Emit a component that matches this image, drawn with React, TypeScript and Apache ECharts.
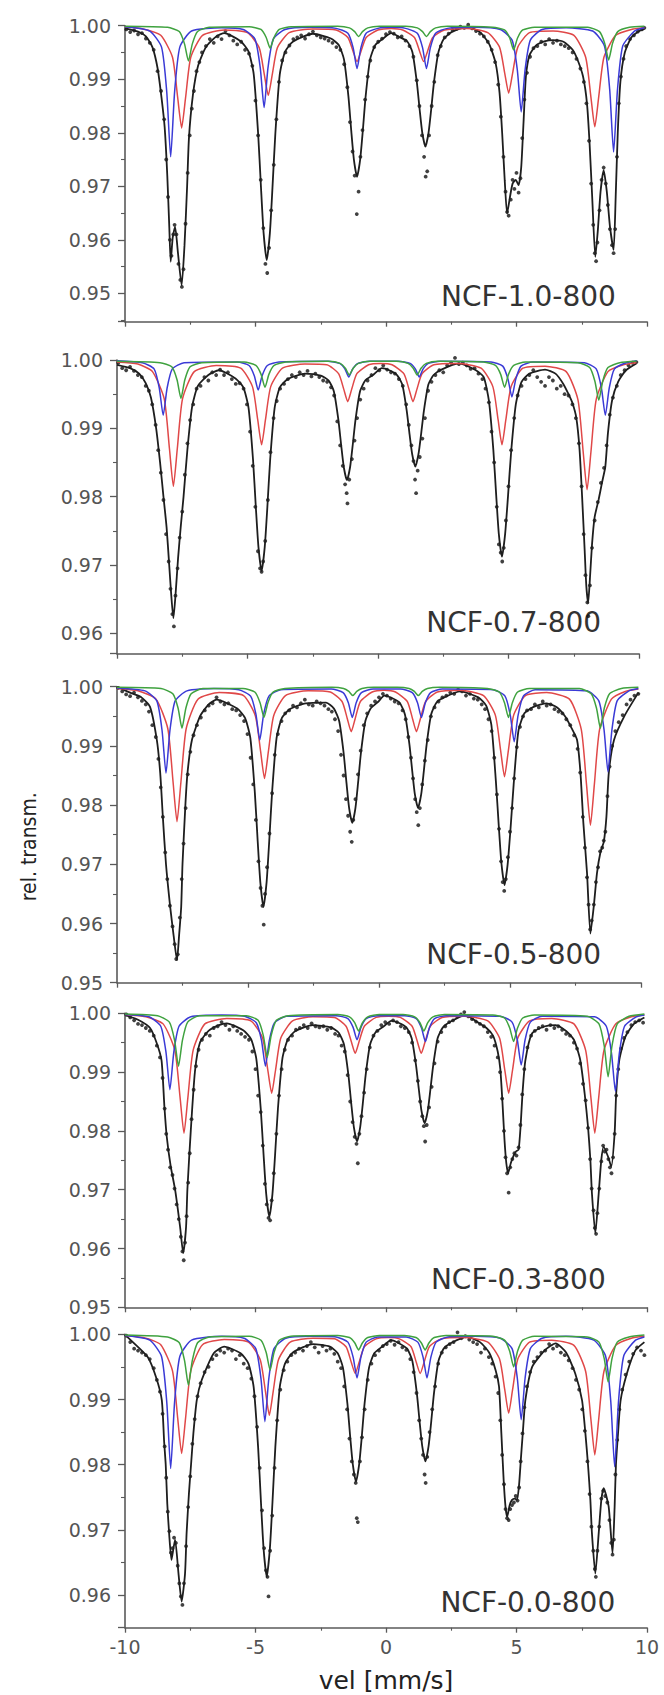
import { useEffect, useRef } from 'react';
import * as echarts from 'echarts';

type Pt = [number, number];

// ---------------- Panel 1 : NCF-1.0-800 ----------------
const p1Total: Pt[] = [[-10,0.9995],[-9.5,0.9989],[-9.2,0.998],[-8.95,0.996],[-8.75,0.992],[-8.6,0.9865],[-8.48,0.981],[-8.38,0.972],[-8.3,0.962],[-8.25,0.9559],[-8.17,0.9605],[-8.08,0.9624],[-7.97,0.9575],[-7.83,0.9515],[-7.72,0.959],[-7.62,0.97],[-7.55,0.979],[-7.4,0.987],[-7.2,0.9925],[-6.9,0.996],[-6.5,0.998],[-6.2,0.9986],
[-5.57,0.9971],[-5.27,0.9952],[-5.07,0.991],[-4.9,0.9799],[-4.79,0.9698],[-4.69,0.9613],[-4.57,0.9562],[-4.45,0.9612],[-4.35,0.9697],[-4.24,0.9798],[-4.07,0.9909],[-3.87,0.9951],[-3.57,0.997],[-2.8,0.9985],
[-2.11,0.9976],[-1.81,0.9964],[-1.61,0.9937],[-1.44,0.9868],[-1.33,0.9803],[-1.23,0.975],[-1.11,0.9718],[-0.99,0.975],[-0.89,0.9803],[-0.78,0.9868],[-0.61,0.9937],[-0.41,0.9964],[-0.11,0.9976],[0.2,0.9986],
[0.51,0.9979],[0.81,0.9971],[1.01,0.9951],[1.18,0.9895],[1.29,0.9843],[1.39,0.98],[1.51,0.9774],[1.63,0.98],[1.73,0.9843],[1.84,0.9895],[2.01,0.9951],[2.21,0.9975],[2.51,0.9988],
[3.1,0.9998],[3.6,0.9988],[3.95,0.9966],[4.2,0.993],[4.35,0.9875],[4.45,0.98],[4.55,0.971],[4.64,0.9649],[4.75,0.968],[4.85,0.9705],[4.97,0.9712],[5.08,0.9702],[5.18,0.9735],[5.27,0.982],[5.36,0.9905],[5.5,0.9945],[5.75,0.9963],[6.1,0.9971],[6.4,0.9973],
[6.8,0.997],[7.15,0.9955],[7.35,0.9935],[7.55,0.9905],[7.7,0.9855],[7.8,0.978],[7.9,0.968],[8.02,0.9568],[8.12,0.962],[8.22,0.969],[8.34,0.973],[8.46,0.969],[8.58,0.9625],[8.72,0.9581],[8.8,0.968],[8.88,0.98],[8.98,0.9895],[9.15,0.995],[9.4,0.9978],[9.7,0.999],[9.9,0.9994]];
const p1Red: Pt[] = [[-10,0.9998],[-9.3,0.9994],[-8.63,0.9982],[-8.18,0.9941],[-7.98,0.9865],[-7.83,0.9809],[-7.68,0.9865],[-7.48,0.9941],[-7.03,0.9982],[-6.2,0.9992],[-5.31,0.9987],[-4.86,0.9959],[-4.66,0.9908],[-4.51,0.987],[-4.36,0.9908],[-4.16,0.9959],[-3.71,0.9987],[-2.8,0.9994],[-1.91,0.9992],[-1.46,0.9978],[-1.26,0.9952],[-1.11,0.9933],[-0.96,0.9952],[-0.76,0.9978],[-0.31,0.9992],[0.2,0.9995],[0.64,0.9992],[1.09,0.9978],[1.29,0.9952],[1.44,0.9933],[1.59,0.9952],[1.79,0.9978],[2.24,0.9992],[3.1,0.9995],[3.9,0.9987],[4.35,0.996],[4.55,0.9911],[4.7,0.9874],[4.85,0.9911],[5.05,0.996],[5.5,0.9987],[6.4,0.999],[7.2,0.9982],[7.65,0.9941],[7.85,0.9867],[8.0,0.9811],[8.15,0.9867],[8.35,0.9941],[8.8,0.9982],[9.4,0.9993],[9.9,0.9996]];
const p1Blue: Pt[] = [[-10,0.9998],[-9.05,0.999],[-8.6,0.996],[-8.4,0.9876],[-8.25,0.9755],[-8.1,0.9876],[-7.9,0.996],[-7.45,0.999],[-6.3,0.9996],[-5.47,0.9993],[-5.02,0.9975],[-4.82,0.9922],[-4.67,0.9847],[-4.52,0.9922],[-4.32,0.9975],[-3.87,0.9993],[-2.9,0.9997],[-1.91,0.9995],[-1.46,0.9986],[-1.26,0.9959],[-1.11,0.992],[-0.96,0.9959],[-0.76,0.9986],[-0.31,0.9995],[0.2,0.9997],[0.75,0.9995],[1.2,0.9986],[1.4,0.9959],[1.55,0.992],[1.7,0.9959],[1.9,0.9986],[2.35,0.9995],[3.4,0.9997],[4.38,0.9993],[4.83,0.9973],[5.03,0.9918],[5.18,0.9839],[5.33,0.9918],[5.53,0.9973],[5.98,0.9993],[6.9,0.9996],[7.92,0.999],[8.37,0.9962],[8.57,0.9881],[8.72,0.9764],[8.87,0.9881],[9.07,0.9962],[9.52,0.999],[9.9,0.9996]];
const p1Green: Pt[] = [[-10,0.9999],[-8.37,0.9997],[-7.92,0.9989],[-7.72,0.9966],[-7.57,0.9934],[-7.42,0.9966],[-7.22,0.9989],[-6.77,0.9997],[-5.24,0.9998],[-4.79,0.9993],[-4.59,0.9978],[-4.44,0.9958],[-4.29,0.9978],[-4.09,0.9993],[-3.64,0.9998],[-1.85,0.9999],[-1.4,0.9996],[-1.2,0.9989],[-1.05,0.998],[-0.9,0.9989],[-0.7,0.9996],[-0.25,0.9999],[0.75,0.9999],[1.2,0.9996],[1.4,0.9989],[1.55,0.998],[1.7,0.9989],[1.9,0.9996],[2.35,0.9999],[4.09,0.9997],[4.54,0.9992],[4.74,0.9977],[4.89,0.9955],[5.04,0.9977],[5.24,0.9992],[5.69,0.9997],[7.73,0.9997],[8.18,0.9989],[8.38,0.9967],[8.53,0.9936],[8.68,0.9967],[8.88,0.9989],[9.33,0.9997],[9.9,0.9999]];
const p1Dots: Pt[] = [[-9.95,0.9993],[-9.8,0.9988],[-9.65,0.9991],[-9.5,0.9984],[-9.35,0.9986],[-9.2,0.9976],[-9.05,0.9968],[-8.9,0.9955],[-8.75,0.9915],[-8.62,0.9878],[-8.5,0.9825],[-8.42,0.975],[-8.35,0.968],[-8.28,0.96],[-8.22,0.957],[-8.15,0.961],[-8.1,0.9628],[-8.03,0.961],[-7.95,0.9555],[-7.88,0.9525],[-7.82,0.9512],[-7.76,0.9545],[-7.68,0.963],[-7.6,0.9725],[-7.52,0.9795],[-7.44,0.9845],[-7.36,0.9878],[-7.26,0.9915],[-7.15,0.9932],[-7.05,0.995],[-6.9,0.9962],[-6.75,0.9975],[-6.6,0.9968],[-6.45,0.998],[-6.3,0.9975],[-6.15,0.999],[-6.0,0.9982],[-5.85,0.9972],
[-5.7,0.9965],[-5.55,0.997],[-5.4,0.9955],[-5.25,0.9948],[-5.12,0.9925],[-5.0,0.986],[-4.9,0.9795],[-4.8,0.9712],[-4.7,0.9622],[-4.62,0.9555],[-4.55,0.9538],[-4.48,0.9585],[-4.4,0.9655],[-4.3,0.974],[-4.2,0.9825],[-4.1,0.9895],[-3.98,0.9935],[-3.85,0.995],[-3.7,0.9963],[-3.55,0.9975],[-3.4,0.9978],[-3.25,0.9982],[-3.1,0.9976],[-2.95,0.9984],[-2.8,0.9989],[-2.65,0.9982],[-2.5,0.9978],[-2.35,0.9976],
[-2.2,0.9972],[-2.05,0.9968],[-1.9,0.996],[-1.75,0.9955],[-1.6,0.9928],[-1.48,0.9885],[-1.38,0.982],[-1.28,0.9765],[-1.2,0.972],[-1.12,0.9648],[-1.05,0.969],[-0.98,0.9755],[-0.9,0.9805],[-0.8,0.9862],[-0.7,0.9905],[-0.6,0.9935],[-0.45,0.996],[-0.3,0.997],[-0.15,0.9976],[0.0,0.9984],[0.15,0.9988],[0.3,0.9985],[0.45,0.9978],[0.6,0.998],
[0.75,0.9972],[0.9,0.9962],[1.05,0.9942],[1.18,0.9898],[1.28,0.985],[1.38,0.9795],[1.46,0.9755],[1.52,0.9718],[1.58,0.9728],[1.65,0.9795],[1.75,0.985],[1.85,0.9895],[1.98,0.9945],[2.1,0.9962],[2.25,0.9978],[2.4,0.9985],[2.55,0.9992],[2.7,0.9994],[2.85,0.9998],[3.0,0.9996],[3.15,1.0002],[3.3,0.9995],[3.45,0.999],
[3.6,0.9985],[3.75,0.998],[3.9,0.997],[4.05,0.9955],[4.18,0.9932],[4.3,0.989],[4.4,0.983],[4.5,0.9755],[4.58,0.969],[4.64,0.9652],[4.7,0.9645],[4.78,0.9675],[4.85,0.9712],[4.92,0.9695],[5.0,0.9725],[5.08,0.9688],[5.15,0.9715],[5.22,0.979],[5.3,0.9862],[5.4,0.9912],[5.52,0.9942],[5.65,0.9958],[5.8,0.9962],[5.95,0.997],[6.1,0.9965],[6.25,0.9975],[6.4,0.9968],[6.55,0.9972],[6.7,0.9965],[6.85,0.9962],
[7.0,0.9958],[7.15,0.995],[7.3,0.9938],[7.45,0.992],[7.58,0.9895],[7.68,0.9855],[7.78,0.9785],[7.86,0.9705],[7.94,0.9628],[8.0,0.9575],[8.05,0.956],[8.1,0.9595],[8.18,0.9655],[8.26,0.9712],[8.34,0.9735],[8.42,0.9705],[8.5,0.9665],[8.58,0.962],[8.66,0.959],[8.72,0.9575],[8.78,0.962],[8.85,0.9755],[8.92,0.9855],[9.0,0.9905],[9.1,0.9938],[9.2,0.9962],[9.35,0.9975],[9.5,0.9982],[9.65,0.9989],[9.8,0.9993],[9.9,0.9996]];

// ---------------- Panel 2 : NCF-0.7-800 ----------------
const p2Total: Pt[] = [[-10,0.9993],[-9.5,0.9988],[-9.15,0.998],[-8.9,0.9966],[-8.7,0.9945],[-8.5,0.99],[-8.35,0.985],[-8.22,0.98],[-8.1,0.9755],[-8.0,0.97],[-7.92,0.9655],[-7.84,0.9622],[-7.76,0.9655],[-7.66,0.971],[-7.56,0.9755],[-7.45,0.98],[-7.3,0.987],[-7.12,0.9932],[-6.9,0.9962],[-6.5,0.9978],[-6.1,0.9985],
[-5.46,0.9973],[-5.16,0.996],[-4.96,0.993],[-4.79,0.9855],[-4.68,0.9784],[-4.58,0.9726],[-4.46,0.9691],[-4.34,0.9726],[-4.24,0.9784],[-4.13,0.9855],[-3.96,0.993],[-3.76,0.996],[-3.46,0.9972],[-2.8,0.998],
[-2.19,0.9977],[-1.89,0.997],[-1.69,0.9954],[-1.52,0.9913],[-1.41,0.9875],[-1.31,0.9843],[-1.19,0.9824],[-1.07,0.9843],[-0.97,0.9875],[-0.86,0.9913],[-0.69,0.9954],[-0.49,0.997],[-0.19,0.9978],[0.15,0.9988],
[0.43,0.9985],[0.73,0.9978],[0.93,0.9964],[1.1,0.9926],[1.21,0.9891],[1.31,0.9862],[1.43,0.9844],[1.55,0.9862],[1.65,0.9891],[1.76,0.9926],[1.93,0.9964],[2.13,0.9978],[2.43,0.9986],[3.1,0.9995],
[3.75,0.9985],[4.05,0.9975],[4.25,0.994],[4.42,0.9868],[4.53,0.9801],[4.63,0.9745],[4.75,0.9712],[4.87,0.9745],[4.98,0.98],[5.1,0.9865],[5.28,0.9935],[5.5,0.9968],[5.8,0.998],[6.4,0.9986],
[6.8,0.998],[7.1,0.9965],[7.3,0.995],[7.45,0.9937],[7.6,0.9915],[7.72,0.987],[7.82,0.98],[7.92,0.972],[7.98,0.967],[8.05,0.9644],[8.12,0.968],[8.2,0.973],[8.3,0.977],[8.45,0.9795],[8.58,0.982],[8.71,0.9844],[8.81,0.9893],[8.97,0.9941],[9.2,0.9968],[9.5,0.9985],[9.9,0.9995]];
const p2Red: Pt[] = [[-10,0.9997],[-9.2,0.9994],[-8.64,0.9983],[-8.19,0.9943],[-7.99,0.987],[-7.84,0.9815],[-7.69,0.987],[-7.49,0.9943],[-7.04,0.9983],[-6.2,0.9992],[-5.26,0.9988],[-4.81,0.9961],[-4.61,0.9913],[-4.46,0.9876],[-4.31,0.9913],[-4.11,0.9961],[-3.66,0.9988],[-2.8,0.9994],[-1.96,0.9993],[-1.51,0.998],[-1.31,0.9957],[-1.16,0.9939],[-1.01,0.9957],[-0.81,0.998],[-0.36,0.9993],[0.1,0.9995],[0.54,0.9993],[0.99,0.998],[1.19,0.9957],[1.34,0.9939],[1.49,0.9957],[1.69,0.998],[2.14,0.9993],[3.05,0.9995],[3.95,0.9988],[4.4,0.9961],[4.6,0.9913],[4.75,0.9876],[4.9,0.9913],[5.1,0.9961],[5.55,0.9988],[6.4,0.9991],[7.21,0.9983],[7.66,0.9942],[7.86,0.9866],[8.01,0.981],[8.16,0.9866],[8.36,0.9942],[8.81,0.9983],[9.4,0.9993],[9.9,0.9996]];
const p2Blue: Pt[] = [[-10,0.9999],[-9.03,0.9996],[-8.58,0.9987],[-8.38,0.9959],[-8.23,0.9919],[-8.08,0.9959],[-7.88,0.9987],[-7.43,0.9996],[-5.39,0.9997],[-4.94,0.9992],[-4.74,0.9977],[-4.59,0.9956],[-4.44,0.9977],[-4.24,0.9992],[-3.79,0.9997],[-1.92,0.9998],[-1.47,0.9995],[-1.27,0.9987],[-1.12,0.9975],[-0.97,0.9987],[-0.77,0.9995],[-0.32,0.9998],[0.78,0.9998],[1.23,0.9995],[1.43,0.9987],[1.58,0.9975],[1.73,0.9987],[1.93,0.9995],[2.38,0.9998],[4.33,0.9997],[4.78,0.9991],[4.98,0.9972],[5.13,0.9946],[5.28,0.9972],[5.48,0.9991],[5.93,0.9997],[7.91,0.9996],[8.36,0.9987],[8.56,0.9959],[8.71,0.9919],[8.86,0.9959],[9.06,0.9987],[9.51,0.9996],[9.9,0.9999]];
const p2Green: Pt[] = [[-10,0.9998],[-8.35,0.9996],[-7.9,0.999],[-7.7,0.9971],[-7.55,0.9944],[-7.4,0.9971],[-7.2,0.999],[-6.75,0.9996],[-5.13,0.9997],[-4.68,0.9992],[-4.48,0.9979],[-4.33,0.996],[-4.18,0.9979],[-3.98,0.9992],[-3.53,0.9997],[-1.9,0.9998],[-1.45,0.9995],[-1.25,0.9988],[-1.1,0.9978],[-0.95,0.9988],[-0.75,0.9995],[-0.3,0.9998],[0.7,0.9998],[1.15,0.9995],[1.35,0.9988],[1.5,0.9978],[1.65,0.9988],[1.85,0.9995],[2.3,0.9998],[4.05,0.9997],[4.5,0.9992],[4.7,0.9979],[4.85,0.996],[5.0,0.9979],[5.2,0.9992],[5.65,0.9997],[7.66,0.9996],[8.11,0.9989],[8.31,0.9969],[8.46,0.9941],[8.61,0.9969],[8.81,0.9989],[9.26,0.9996],[9.9,0.9998]];
const p2Dots: Pt[] = [[-9.95,0.9996],[-9.8,0.9988],[-9.65,0.9985],[-9.5,0.999],[-9.35,0.9984],[-9.2,0.9978],[-9.05,0.9975],[-8.9,0.9962],[-8.78,0.9955],[-8.65,0.9935],[-8.52,0.9905],[-8.42,0.9868],[-8.32,0.9835],[-8.22,0.9795],[-8.12,0.9745],[-8.02,0.9705],[-7.95,0.9665],[-7.88,0.9628],[-7.82,0.961],[-7.76,0.9655],[-7.68,0.9695],[-7.6,0.974],[-7.5,0.9778],[-7.4,0.9832],[-7.3,0.9878],[-7.2,0.9912],[-7.08,0.9935],[-6.95,0.9958],[-6.8,0.9962],[-6.65,0.9975],[-6.5,0.997],[-6.35,0.9982],[-6.2,0.9978],[-6.05,0.9986],[-5.9,0.9978],[-5.75,0.9982],[-5.6,0.9972],[-5.45,0.9965],[-5.3,0.9966],[-5.15,0.9958],[-5.02,0.9935],[-4.9,0.9895],[-4.8,0.9845],[-4.7,0.9785],[-4.6,0.972],[-4.52,0.9695],[-4.46,0.969],[-4.4,0.9705],[-4.32,0.9735],[-4.22,0.9795],[-4.12,0.9865],[-4.0,0.9915],[-3.88,0.994],[-3.75,0.9958],[-3.6,0.9965],[-3.45,0.9972],[-3.3,0.9978],[-3.15,0.9975],[-3.0,0.9982],[-2.85,0.9978],[-2.7,0.9984],[-2.55,0.9976],[-2.4,0.998],[-2.25,0.9975],[-2.1,0.997],[-1.95,0.9968],[-1.8,0.996],[-1.68,0.9948],[-1.56,0.991],[-1.45,0.9875],[-1.35,0.9845],[-1.26,0.9818],[-1.2,0.9805],[-1.17,0.979],[-1.1,0.9825],[-1.0,0.9855],[-0.9,0.9882],[-0.8,0.9915],[-0.68,0.9942],[-0.55,0.9958],[-0.4,0.997],[-0.25,0.9978],[-0.1,0.9988],[0.05,0.9985],[0.2,0.9992],[0.35,0.9986],[0.5,0.9982],[0.65,0.998],[0.8,0.9972],[0.95,0.9962],[1.08,0.9935],[1.18,0.9905],[1.28,0.9875],[1.36,0.9852],[1.42,0.9825],[1.46,0.9805],[1.52,0.9838],[1.6,0.9858],[1.7,0.9885],[1.8,0.9915],[1.92,0.9955],[2.05,0.9968],[2.2,0.9978],[2.35,0.9985],[2.5,0.9982],[2.65,0.9992],[2.8,0.9996],[2.95,1.0003],[3.1,0.9994],[3.25,0.9996],[3.4,0.9992],[3.55,0.9987],[3.7,0.9988],[3.85,0.998],[4.0,0.9972],[4.12,0.9958],[4.25,0.9938],[4.35,0.9895],[4.45,0.985],[4.55,0.9785],[4.63,0.973],[4.7,0.9718],[4.76,0.9705],[4.82,0.9725],[4.9,0.9765],[5.0,0.9815],[5.1,0.9868],[5.22,0.9915],[5.35,0.9948],[5.5,0.9962],[5.65,0.9972],[5.8,0.9978],[5.95,0.9985],[6.1,0.9975],[6.25,0.9968],[6.4,0.9962],[6.55,0.9975],[6.7,0.997],[6.85,0.9958],[7.0,0.9962],[7.15,0.995],[7.3,0.9948],[7.45,0.9935],[7.58,0.9915],[7.7,0.9878],[7.8,0.9815],[7.88,0.9745],[7.95,0.9685],[8.02,0.9645],[8.06,0.9625],[8.12,0.967],[8.2,0.9725],[8.3,0.9765],[8.42,0.9792],[8.54,0.982],[8.66,0.9842],[8.76,0.9875],[8.88,0.992],[9.0,0.9945],[9.15,0.9962],[9.3,0.9978],[9.45,0.9985],[9.6,0.9992],[9.75,0.9996],[9.9,0.9997]];

// ---------------- Panel 3 : NCF-0.5-800 ----------------
const p3Total: Pt[] = [[-10,1.0],[-9.5,0.999],[-9.1,0.9983],[-8.74,0.9966],[-8.48,0.991],[-8.35,0.9854],[-8.25,0.978],[-8.13,0.97],[-7.97,0.9628],[-7.84,0.958],[-7.71,0.9538],[-7.63,0.958],[-7.55,0.9628],[-7.5,0.97],[-7.39,0.98],[-7.31,0.9854],[-7.14,0.991],[-6.82,0.9951],[-6.5,0.997],[-6.2,0.9978],
[-5.41,0.9963],[-5.11,0.9947],[-4.91,0.9913],[-4.74,0.9822],[-4.63,0.9739],[-4.53,0.967],[-4.41,0.9628],[-4.29,0.967],[-4.19,0.9739],[-4.08,0.9822],[-3.91,0.9913],[-3.71,0.9947],[-3.41,0.9962],[-2.8,0.9972],
[-2.02,0.9973],[-1.72,0.9963],[-1.52,0.9942],[-1.35,0.9888],[-1.24,0.9837],[-1.14,0.9795],[-1.02,0.977],[-0.9,0.9795],[-0.8,0.9837],[-0.69,0.9888],[-0.52,0.9942],[-0.32,0.9963],[-0.02,0.9975],[0.2,0.9985],
[0.49,0.9981],[0.79,0.9973],[0.99,0.9953],[1.16,0.9903],[1.27,0.9857],[1.37,0.9818],[1.49,0.9795],[1.61,0.9818],[1.71,0.9857],[1.82,0.9903],[1.99,0.9953],[2.19,0.9973],[2.49,0.9982],[3.1,0.9992],
[3.79,0.9982],[4.09,0.9968],[4.29,0.9935],[4.46,0.9841],[4.57,0.9766],[4.67,0.9703],[4.79,0.9665],[4.91,0.97],[5.02,0.976],[5.14,0.9835],[5.32,0.9925],[5.55,0.9955],[5.9,0.9966],[6.4,0.9972],
[6.8,0.9965],[7.1,0.995],[7.35,0.993],[7.56,0.991],[7.69,0.9854],[7.8,0.977],[7.94,0.9685],[8.07,0.9583],[8.2,0.963],[8.32,0.9685],[8.45,0.972],[8.58,0.9738],[8.68,0.978],[8.77,0.9854],[8.97,0.991],[9.36,0.995],[9.9,0.999]];
const p3Red: Pt[] = [[-10,0.9997],[-9.2,0.9993],[-8.51,0.9979],[-8.06,0.9929],[-7.86,0.9839],[-7.71,0.9772],[-7.56,0.9839],[-7.36,0.9929],[-6.91,0.9979],[-6.1,0.999],[-5.17,0.9985],[-4.72,0.9951],[-4.52,0.9891],[-4.37,0.9845],[-4.22,0.9891],[-4.02,0.9951],[-3.57,0.9985],[-2.7,0.9993],[-1.86,0.9991],[-1.41,0.9975],[-1.21,0.9946],[-1.06,0.9924],[-0.91,0.9946],[-0.71,0.9975],[-0.26,0.9991],[0.2,0.9994],[0.63,0.9991],[1.08,0.9975],[1.28,0.9946],[1.43,0.9924],[1.58,0.9946],[1.78,0.9975],[2.23,0.9991],[3.1,0.9994],[3.99,0.9985],[4.44,0.9952],[4.64,0.9893],[4.79,0.9848],[4.94,0.9893],[5.14,0.9952],[5.59,0.9985],[6.4,0.999],[7.27,0.9979],[7.72,0.9928],[7.92,0.9835],[8.07,0.9766],[8.22,0.9835],[8.42,0.9928],[8.87,0.9979],[9.4,0.9992],[9.9,0.9996]];
const p3Blue: Pt[] = [[-10,0.9998],[-8.93,0.9993],[-8.48,0.9976],[-8.28,0.9926],[-8.13,0.9854],[-7.98,0.9926],[-7.78,0.9976],[-7.33,0.9993],[-6.3,0.9997],[-5.35,0.9995],[-4.9,0.9984],[-4.7,0.9954],[-4.55,0.991],[-4.4,0.9954],[-4.2,0.9984],[-3.75,0.9995],[-1.82,0.9996],[-1.37,0.999],[-1.17,0.9973],[-1.02,0.9948],[-0.87,0.9973],[-0.67,0.999],[-0.22,0.9996],[0.82,0.9996],[1.27,0.999],[1.47,0.9973],[1.62,0.9948],[1.77,0.9973],[1.97,0.999],[2.42,0.9996],[4.36,0.9995],[4.81,0.9984],[5.01,0.9952],[5.16,0.9907],[5.31,0.9952],[5.51,0.9984],[5.96,0.9995],[7.94,0.9993],[8.39,0.9976],[8.59,0.9927],[8.74,0.9856],[8.89,0.9927],[9.09,0.9976],[9.54,0.9993],[9.9,0.9997]];
const p3Green: Pt[] = [[-10,0.9999],[-8.32,0.9997],[-7.87,0.9988],[-7.67,0.9964],[-7.52,0.993],[-7.37,0.9964],[-7.17,0.9988],[-6.72,0.9997],[-5.19,0.9997],[-4.74,0.9991],[-4.54,0.9973],[-4.39,0.9948],[-4.24,0.9973],[-4.04,0.9991],[-3.59,0.9997],[-1.8,0.9999],[-1.35,0.9997],[-1.15,0.9992],[-1.0,0.9985],[-0.85,0.9992],[-0.65,0.9997],[-0.2,0.9999],[0.7,0.9999],[1.15,0.9997],[1.35,0.9992],[1.5,0.9985],[1.65,0.9992],[1.85,0.9997],[2.3,0.9999],[4.14,0.9997],[4.59,0.9991],[4.79,0.9973],[4.94,0.9948],[5.09,0.9973],[5.29,0.9991],[5.74,0.9997],[7.65,0.9997],[8.1,0.9988],[8.3,0.9964],[8.45,0.993],[8.6,0.9964],[8.8,0.9988],[9.25,0.9997],[9.9,0.9999]];
const p3Dots: Pt[] = [[-9.95,0.9998],[-9.8,0.9992],[-9.65,0.9987],[-9.5,0.9984],[-9.35,0.999],[-9.2,0.9982],[-9.05,0.9976],[-8.9,0.997],[-8.78,0.9958],[-8.65,0.9935],[-8.52,0.9915],[-8.42,0.9878],[-8.33,0.983],[-8.25,0.978],[-8.16,0.972],[-8.08,0.9675],[-7.98,0.963],[-7.88,0.9595],[-7.8,0.9565],[-7.74,0.954],[-7.68,0.9548],[-7.6,0.961],[-7.53,0.9675],[-7.46,0.9735],[-7.38,0.9795],[-7.3,0.9852],[-7.2,0.989],[-7.08,0.9918],[-6.95,0.9935],[-6.8,0.9948],[-6.65,0.996],[-6.5,0.9968],[-6.35,0.9972],[-6.2,0.9982],[-6.05,0.9975],[-5.9,0.997],[-5.75,0.9972],[-5.6,0.9962],[-5.45,0.996],[-5.3,0.9952],[-5.15,0.9942],[-5.02,0.992],[-4.9,0.988],[-4.8,0.9835],[-4.7,0.9775],[-4.6,0.9705],[-4.52,0.966],[-4.45,0.963],[-4.4,0.9598],[-4.35,0.965],[-4.27,0.9695],[-4.18,0.9752],[-4.08,0.982],[-3.98,0.9885],[-3.86,0.992],[-3.72,0.9942],[-3.58,0.9955],[-3.43,0.996],[-3.28,0.9968],[-3.13,0.9965],[-2.98,0.9972],[-2.83,0.9978],[-2.68,0.997],[-2.53,0.9968],[-2.38,0.9975],[-2.23,0.9972],[-2.08,0.9968],[-1.93,0.9962],[-1.8,0.9958],[-1.68,0.9945],[-1.56,0.9925],[-1.45,0.9885],[-1.35,0.985],[-1.26,0.981],[-1.18,0.9782],[-1.1,0.9755],[-1.04,0.9738],[-0.98,0.9775],[-0.9,0.981],[-0.8,0.9852],[-0.7,0.9892],[-0.58,0.9935],[-0.45,0.9955],[-0.3,0.9968],[-0.15,0.9975],[0.0,0.9982],[0.15,0.9988],[0.3,0.9985],[0.45,0.998],[0.6,0.9975],[0.75,0.9972],[0.9,0.996],[1.02,0.9945],[1.12,0.9915],[1.22,0.988],[1.3,0.9845],[1.38,0.981],[1.44,0.9788],[1.5,0.9766],[1.56,0.9795],[1.65,0.9835],[1.75,0.9875],[1.86,0.991],[1.98,0.995],[2.12,0.9965],[2.27,0.9975],[2.42,0.9982],[2.57,0.9985],[2.72,0.999],[2.87,0.9988],[3.02,0.9995],[3.17,0.9992],[3.32,0.9985],[3.47,0.9988],[3.62,0.998],[3.77,0.9978],[3.92,0.997],[4.05,0.9962],[4.18,0.9945],[4.3,0.9925],[4.4,0.988],[4.5,0.9818],[4.58,0.976],[4.66,0.9705],[4.72,0.967],[4.78,0.9655],[4.84,0.9675],[4.92,0.9712],[5.0,0.9755],[5.08,0.9795],[5.16,0.9845],[5.26,0.9898],[5.38,0.9932],[5.5,0.995],[5.65,0.996],[5.8,0.9962],[5.95,0.997],[6.1,0.9965],[6.25,0.9975],[6.4,0.9968],[6.55,0.997],[6.7,0.9962],[6.85,0.9958],[7.0,0.9955],[7.15,0.9945],[7.3,0.9935],[7.45,0.9918],[7.58,0.9895],[7.68,0.9855],[7.78,0.978],[7.86,0.9728],[7.94,0.9678],[8.0,0.9632],[8.06,0.959],[8.12,0.9605],[8.2,0.9632],[8.28,0.967],[8.36,0.9695],[8.44,0.9722],[8.52,0.9728],[8.58,0.974],[8.64,0.9755],[8.72,0.9815],[8.8,0.9865],[8.9,0.99],[9.02,0.9925],[9.15,0.994],[9.3,0.9952],[9.45,0.997],[9.6,0.9978],[9.75,0.9985],[9.9,0.9988]];

// ---------------- Panel 4 : NCF-0.3-800 ----------------
const p4Total: Pt[] = [[-10,0.9997],[-9.5,0.9989],[-9.04,0.9975],[-8.79,0.995],[-8.6,0.992],[-8.49,0.9841],[-8.4,0.979],[-8.25,0.974],[-8.08,0.97],[-7.89,0.9637],[-7.77,0.9592],[-7.66,0.9637],[-7.61,0.97],[-7.48,0.98],[-7.32,0.9901],[-7.13,0.995],[-6.8,0.997],[-6.4,0.998],[-6.1,0.9983],
[-5.47,0.9971],[-5.17,0.9956],[-4.97,0.9923],[-4.8,0.9838],[-4.69,0.9759],[-4.59,0.9693],[-4.47,0.9654],[-4.35,0.9693],[-4.25,0.9759],[-4.14,0.9838],[-3.97,0.9923],[-3.77,0.9955],[-3.47,0.997],[-2.8,0.998],
[-2.11,0.9976],[-1.81,0.9967],[-1.61,0.9947],[-1.44,0.9895],[-1.33,0.9846],[-1.23,0.9806],[-1.11,0.9782],[-0.99,0.9806],[-0.89,0.9846],[-0.78,0.9895],[-0.61,0.9947],[-0.41,0.9967],[-0.11,0.9977],[0.2,0.9987],
[0.48,0.9984],[0.78,0.9976],[0.98,0.9958],[1.15,0.9912],[1.26,0.987],[1.36,0.9834],[1.48,0.9813],[1.6,0.9834],[1.7,0.987],[1.81,0.9912],[1.98,0.9958],[2.18,0.9976],[2.48,0.9986],[3.05,0.9997],
[3.5,0.9985],[3.85,0.9975],[4.1,0.9962],[4.28,0.9935],[4.38,0.9905],[4.46,0.985],[4.54,0.9785],[4.61,0.9745],[4.68,0.9728],[4.78,0.9745],[4.89,0.9758],[4.98,0.9765],[5.08,0.9768],[5.16,0.981],[5.23,0.9864],[5.34,0.992],[5.6,0.9966],[6.1,0.9978],[6.5,0.998],
[6.9,0.997],[7.2,0.9955],[7.44,0.9921],[7.61,0.9864],[7.74,0.9807],[7.83,0.9751],[7.89,0.9694],[8.02,0.9626],[8.15,0.9694],[8.25,0.9751],[8.34,0.9773],[8.51,0.9756],[8.63,0.9739],[8.76,0.9796],[8.82,0.9864],[8.94,0.9921],[9.17,0.996],[9.5,0.9982],[9.9,0.9993]];
const p4Red: Pt[] = [[-10,0.9998],[-9.2,0.9994],[-8.54,0.9982],[-8.09,0.9937],[-7.89,0.9857],[-7.74,0.9796],[-7.59,0.9857],[-7.39,0.9937],[-6.94,0.9982],[-6.1,0.9991],[-5.18,0.9987],[-4.73,0.9958],[-4.53,0.9904],[-4.38,0.9864],[-4.23,0.9904],[-4.03,0.9958],[-3.58,0.9987],[-2.8,0.9994],[-1.98,0.9993],[-1.53,0.9978],[-1.33,0.9952],[-1.18,0.9932],[-1.03,0.9952],[-0.83,0.9978],[-0.38,0.9993],[0.1,0.9995],[0.55,0.9993],[1.0,0.9978],[1.2,0.9952],[1.35,0.9932],[1.5,0.9952],[1.7,0.9978],[2.15,0.9993],[3.0,0.9995],[3.9,0.9987],[4.35,0.9958],[4.55,0.9904],[4.7,0.9864],[4.85,0.9904],[5.05,0.9958],[5.5,0.9987],[6.35,0.9991],[7.2,0.9982],[7.65,0.9937],[7.85,0.9857],[8.0,0.9796],[8.15,0.9857],[8.35,0.9937],[8.8,0.9982],[9.4,0.9994],[9.9,0.9997]];
const p4Blue: Pt[] = [[-10,0.9998],[-9.08,0.9994],[-8.63,0.9978],[-8.43,0.9934],[-8.28,0.987],[-8.13,0.9934],[-7.93,0.9978],[-7.48,0.9994],[-6.3,0.9997],[-5.42,0.9995],[-4.97,0.9984],[-4.77,0.9954],[-4.62,0.991],[-4.47,0.9954],[-4.27,0.9984],[-3.82,0.9995],[-1.91,0.9996],[-1.46,0.9991],[-1.26,0.9976],[-1.11,0.9955],[-0.96,0.9976],[-0.76,0.9991],[-0.31,0.9996],[0.71,0.9996],[1.16,0.9991],[1.36,0.9975],[1.51,0.9952],[1.66,0.9975],[1.86,0.9991],[2.31,0.9996],[4.38,0.9995],[4.83,0.9985],[5.03,0.9955],[5.18,0.9912],[5.33,0.9955],[5.53,0.9985],[5.98,0.9995],[7.99,0.9994],[8.44,0.9978],[8.64,0.9932],[8.79,0.9867],[8.94,0.9932],[9.14,0.9978],[9.59,0.9994],[9.9,0.9997]];
const p4Green: Pt[] = [[-10,0.9999],[-8.75,0.9996],[-8.3,0.9985],[-8.1,0.9954],[-7.95,0.991],[-7.8,0.9954],[-7.6,0.9985],[-7.15,0.9996],[-5.35,0.9996],[-4.9,0.9988],[-4.7,0.9962],[-4.55,0.9925],[-4.4,0.9962],[-4.2,0.9988],[-3.75,0.9996],[-1.85,0.9998],[-1.4,0.9994],[-1.2,0.9984],[-1.05,0.997],[-0.9,0.9984],[-0.7,0.9994],[-0.25,0.9998],[0.65,0.9998],[1.1,0.9994],[1.3,0.9984],[1.45,0.997],[1.6,0.9984],[1.8,0.9994],[2.25,0.9998],[4.09,0.9997],[4.54,0.9992],[4.74,0.9975],[4.89,0.9952],[5.04,0.9975],[5.24,0.9992],[5.69,0.9997],[7.71,0.9995],[8.16,0.9982],[8.36,0.9945],[8.51,0.9892],[8.66,0.9945],[8.86,0.9982],[9.31,0.9995],[9.9,0.9999]];
const p4Dots: Pt[] = [[-9.95,0.9998],[-9.8,0.9993],[-9.65,0.9988],[-9.5,0.9982],[-9.35,0.998],[-9.2,0.9975],[-9.05,0.997],[-8.9,0.9962],[-8.78,0.9945],[-8.66,0.9925],[-8.56,0.989],[-8.48,0.9838],[-8.42,0.9795],[-8.35,0.9768],[-8.27,0.9738],[-8.18,0.9725],[-8.1,0.9702],[-8.02,0.9675],[-7.94,0.965],[-7.86,0.962],[-7.8,0.9595],[-7.75,0.958],[-7.7,0.961],[-7.64,0.9655],[-7.58,0.9712],[-7.52,0.9762],[-7.45,0.982],[-7.37,0.987],[-7.28,0.991],[-7.18,0.9938],[-7.05,0.9955],[-6.9,0.9965],[-6.75,0.9962],[-6.6,0.9975],[-6.45,0.9978],[-6.3,0.9985],[-6.15,0.998],[-6.0,0.9972],[-5.85,0.9978],[-5.7,0.997],[-5.55,0.9965],[-5.4,0.996],[-5.25,0.9955],[-5.12,0.9935],[-5.0,0.9905],[-4.9,0.986],[-4.8,0.9832],[-4.72,0.9775],[-4.64,0.971],[-4.57,0.9675],[-4.5,0.9652],[-4.44,0.9648],[-4.38,0.9682],[-4.3,0.9728],[-4.2,0.9795],[-4.1,0.986],[-4.0,0.9905],[-3.88,0.9938],[-3.75,0.9955],[-3.6,0.9962],[-3.45,0.9972],[-3.3,0.9975],[-3.15,0.998],[-3.0,0.9975],[-2.85,0.9983],[-2.7,0.9978],[-2.55,0.9976],[-2.4,0.9978],[-2.25,0.9972],[-2.1,0.9975],[-1.95,0.9965],[-1.82,0.9962],[-1.7,0.9945],[-1.58,0.9935],[-1.47,0.9895],[-1.37,0.985],[-1.28,0.9815],[-1.2,0.979],[-1.13,0.9778],[-1.08,0.9745],[-1.02,0.9795],[-0.94,0.9825],[-0.84,0.9865],[-0.74,0.9905],[-0.62,0.9942],[-0.48,0.9962],[-0.33,0.997],[-0.18,0.998],[-0.03,0.9985],[0.12,0.9982],[0.27,0.9988],[0.42,0.9985],[0.57,0.9978],[0.72,0.9975],[0.87,0.9968],[1.0,0.995],[1.12,0.992],[1.22,0.9885],[1.31,0.985],[1.39,0.9825],[1.45,0.9808],[1.5,0.9782],[1.56,0.981],[1.65,0.984],[1.75,0.9875],[1.86,0.9915],[1.98,0.9952],[2.12,0.9968],[2.27,0.9978],[2.42,0.9985],[2.57,0.9988],[2.72,0.9995],[2.87,0.9998],[3.0,1.0002],[3.15,0.9995],[3.3,0.999],[3.45,0.9986],[3.6,0.9982],[3.75,0.9978],[3.9,0.9968],[4.03,0.996],[4.16,0.9945],[4.28,0.9925],[4.37,0.99],[4.45,0.9855],[4.52,0.98],[4.58,0.9755],[4.64,0.9728],[4.7,0.9695],[4.76,0.9738],[4.84,0.9752],[4.92,0.9762],[5.0,0.9758],[5.08,0.9772],[5.15,0.981],[5.22,0.9862],[5.3,0.9905],[5.42,0.9942],[5.56,0.9962],[5.7,0.997],[5.85,0.9975],[6.0,0.9978],[6.15,0.9972],[6.3,0.998],[6.45,0.9975],[6.6,0.9978],[6.75,0.9972],[6.9,0.9965],[7.05,0.9962],[7.2,0.995],[7.32,0.994],[7.44,0.9915],[7.55,0.988],[7.65,0.9852],[7.74,0.9805],[7.82,0.9752],[7.88,0.9702],[7.95,0.9665],[8.0,0.9635],[8.05,0.9625],[8.1,0.966],[8.17,0.9702],[8.25,0.9748],[8.32,0.9775],[8.38,0.9765],[8.45,0.9768],[8.52,0.9752],[8.58,0.9738],[8.64,0.9728],[8.7,0.9755],[8.76,0.9795],[8.82,0.986],[8.9,0.9905],[9.0,0.994],[9.12,0.9958],[9.25,0.9968],[9.4,0.998],[9.55,0.9985],[9.7,0.9988],[9.85,0.9984]];

// ---------------- Panel 5 : NCF-0.0-800 ----------------
const p5Total: Pt[] = [[-10,0.9999],[-9.7,0.9988],[-9.13,0.9965],[-8.81,0.9934],[-8.59,0.9899],[-8.5,0.9835],[-8.44,0.98],[-8.38,0.974],[-8.31,0.9695],[-8.22,0.9654],[-8.15,0.967],[-8.08,0.9685],[-7.95,0.9633],[-7.83,0.959],[-7.7,0.9633],[-7.64,0.9695],[-7.55,0.9756],[-7.47,0.98],[-7.38,0.9848],[-7.25,0.9899],[-7.06,0.993],[-6.6,0.9971],[-6.2,0.9981],
[-5.57,0.9971],[-5.27,0.9955],[-5.07,0.9919],[-4.9,0.9827],[-4.79,0.9742],[-4.69,0.9671],[-4.57,0.9628],[-4.45,0.9671],[-4.35,0.9742],[-4.24,0.9827],[-4.07,0.9919],[-3.87,0.9955],[-3.57,0.9972],[-2.8,0.9985],
[-2.15,0.9981],[-1.85,0.9971],[-1.65,0.9949],[-1.48,0.9894],[-1.37,0.9842],[-1.27,0.98],[-1.15,0.9774],[-1.03,0.98],[-0.93,0.9842],[-0.82,0.9894],[-0.65,0.9949],[-0.45,0.9971],[-0.15,0.9981],[0.2,0.9991],
[0.51,0.9986],[0.81,0.9978],[1.01,0.9959],[1.18,0.991],[1.29,0.9865],[1.39,0.9828],[1.51,0.9805],[1.63,0.9828],[1.73,0.9865],[1.84,0.991],[2.01,0.9959],[2.21,0.9978],[2.51,0.9987],[3.1,0.9996],
[3.6,0.9988],[3.95,0.9972],[4.2,0.9945],[4.33,0.992],[4.42,0.9848],[4.51,0.9775],[4.58,0.9735],[4.64,0.972],[4.74,0.9738],[4.83,0.9746],[4.93,0.9748],[5.02,0.9746],[5.1,0.977],[5.17,0.981],[5.24,0.9848],[5.34,0.9899],[5.6,0.995],[6.1,0.9976],[6.5,0.9986],
[6.9,0.9972],[7.25,0.994],[7.51,0.9899],[7.64,0.9848],[7.74,0.98],[7.83,0.9746],[7.89,0.9695],[8.02,0.9633],[8.15,0.9695],[8.25,0.9746],[8.34,0.9764],[8.53,0.9736],[8.68,0.9664],[8.76,0.9736],[8.81,0.98],[8.89,0.9848],[8.99,0.9899],[9.23,0.994],[9.55,0.9975],[9.9,0.9988]];
const p5Red: Pt[] = [[-10,0.9998],[-9.2,0.9994],[-8.63,0.9984],[-8.18,0.9944],[-7.98,0.9871],[-7.83,0.9817],[-7.68,0.9871],[-7.48,0.9944],[-7.03,0.9984],[-6.2,0.9992],[-5.27,0.9988],[-4.82,0.9961],[-4.62,0.9913],[-4.47,0.9876],[-4.32,0.9913],[-4.12,0.9961],[-3.67,0.9988],[-2.8,0.9994],[-1.98,0.9993],[-1.53,0.9981],[-1.33,0.9957],[-1.18,0.994],[-1.03,0.9957],[-0.83,0.9981],[-0.38,0.9993],[0.1,0.9995],[0.51,0.9993],[0.96,0.9981],[1.16,0.9957],[1.31,0.994],[1.46,0.9957],[1.66,0.9981],[2.11,0.9993],[3.0,0.9995],[3.9,0.9988],[4.35,0.9962],[4.55,0.9915],[4.7,0.9879],[4.85,0.9915],[5.05,0.9962],[5.5,0.9988],[6.35,0.9991],[7.2,0.9983],[7.65,0.9943],[7.85,0.987],[8.0,0.9815],[8.15,0.987],[8.35,0.9943],[8.8,0.9983],[9.4,0.9994],[9.9,0.9997]];
const p5Blue: Pt[] = [[-10,0.9998],[-9.05,0.9991],[-8.6,0.9966],[-8.4,0.9896],[-8.25,0.9794],[-8.1,0.9896],[-7.9,0.9966],[-7.45,0.9991],[-6.3,0.9997],[-5.44,0.9994],[-4.99,0.9978],[-4.79,0.9932],[-4.64,0.9866],[-4.49,0.9932],[-4.29,0.9978],[-3.84,0.9994],[-2.9,0.9997],[-1.91,0.9996],[-1.46,0.9988],[-1.26,0.9965],[-1.11,0.9933],[-0.96,0.9965],[-0.76,0.9988],[-0.31,0.9996],[0.77,0.9996],[1.22,0.9988],[1.42,0.9965],[1.57,0.9933],[1.72,0.9965],[1.92,0.9988],[2.37,0.9996],[3.4,0.9997],[4.38,0.9994],[4.83,0.9978],[5.03,0.9933],[5.18,0.9869],[5.33,0.9933],[5.53,0.9978],[5.98,0.9994],[6.9,0.9997],[7.96,0.9991],[8.41,0.9967],[8.61,0.9898],[8.76,0.9797],[8.91,0.9898],[9.11,0.9967],[9.56,0.9991],[9.9,0.9996]];
const p5Green: Pt[] = [[-10,0.9999],[-8.37,0.9996],[-7.92,0.9987],[-7.72,0.996],[-7.57,0.9922],[-7.42,0.996],[-7.22,0.9987],[-6.77,0.9996],[-5.24,0.9997],[-4.79,0.9991],[-4.59,0.9972],[-4.44,0.9945],[-4.29,0.9972],[-4.09,0.9991],[-3.64,0.9997],[-1.85,0.9998],[-1.4,0.9995],[-1.2,0.9987],[-1.05,0.9976],[-0.9,0.9987],[-0.7,0.9995],[-0.25,0.9998],[0.7,0.9998],[1.15,0.9995],[1.35,0.9987],[1.5,0.9976],[1.65,0.9987],[1.85,0.9995],[2.3,0.9998],[4.09,0.9997],[4.54,0.9991],[4.74,0.9974],[4.89,0.995],[5.04,0.9974],[5.24,0.9991],[5.69,0.9997],[7.71,0.9996],[8.16,0.9988],[8.36,0.9963],[8.51,0.9927],[8.66,0.9963],[8.86,0.9988],[9.31,0.9996],[9.9,0.9999]];
const p5Dots: Pt[] = [[-9.95,0.9998],[-9.8,0.9988],[-9.65,0.9978],[-9.5,0.9975],[-9.35,0.9972],[-9.2,0.9968],[-9.05,0.9962],[-8.9,0.9948],[-8.78,0.993],[-8.66,0.9912],[-8.56,0.9878],[-8.48,0.9828],[-8.42,0.978],[-8.36,0.9728],[-8.3,0.9698],[-8.24,0.9665],[-8.18,0.9672],[-8.12,0.9688],[-8.05,0.968],[-7.98,0.9645],[-7.92,0.9618],[-7.86,0.9598],[-7.8,0.9585],[-7.74,0.9618],[-7.66,0.9675],[-7.58,0.9735],[-7.5,0.9782],[-7.42,0.9832],[-7.33,0.987],[-7.22,0.9905],[-7.1,0.9925],[-6.95,0.9942],[-6.8,0.995],[-6.65,0.9962],[-6.5,0.9968],[-6.35,0.9975],[-6.2,0.9972],[-6.05,0.9978],[-5.9,0.9975],[-5.75,0.9962],[-5.6,0.9968],[-5.45,0.9955],[-5.3,0.9948],[-5.16,0.9932],[-5.04,0.9905],[-4.94,0.9858],[-4.84,0.9795],[-4.75,0.973],[-4.67,0.9672],[-4.6,0.9638],[-4.54,0.9628],[-4.5,0.9598],[-4.44,0.9668],[-4.36,0.9722],[-4.27,0.9795],[-4.17,0.9868],[-4.05,0.9915],[-3.92,0.9945],[-3.78,0.9958],[-3.63,0.9968],[-3.48,0.9972],[-3.33,0.9978],[-3.18,0.9975],[-3.03,0.9982],[-2.88,0.9988],[-2.73,0.998],[-2.58,0.9972],[-2.43,0.9982],[-2.28,0.9975],[-2.13,0.9978],[-1.98,0.997],[-1.85,0.9958],[-1.72,0.9948],[-1.6,0.992],[-1.49,0.9885],[-1.4,0.984],[-1.31,0.9805],[-1.23,0.9785],[-1.16,0.9772],[-1.12,0.9718],[-1.08,0.9712],[-1.0,0.9805],[-0.92,0.9842],[-0.82,0.9885],[-0.7,0.993],[-0.56,0.9955],[-0.42,0.9968],[-0.27,0.9975],[-0.12,0.9982],[0.03,0.9985],[0.18,0.999],[0.33,0.9984],[0.48,0.9988],[0.63,0.998],[0.78,0.9976],[0.93,0.9962],[1.06,0.9942],[1.17,0.991],[1.27,0.9868],[1.35,0.984],[1.42,0.9815],[1.48,0.9785],[1.52,0.9772],[1.58,0.9812],[1.67,0.985],[1.77,0.9885],[1.88,0.992],[2.0,0.9955],[2.14,0.9972],[2.29,0.998],[2.44,0.9985],[2.59,0.9988],[2.74,1.0003],[2.89,0.9994],[3.04,0.9997],[3.19,0.9992],[3.34,0.9988],[3.49,0.9985],[3.64,0.9972],[3.79,0.9978],[3.94,0.9965],[4.07,0.9955],[4.2,0.9935],[4.3,0.991],[4.38,0.9868],[4.45,0.9815],[4.52,0.977],[4.58,0.9732],[4.64,0.9718],[4.7,0.9715],[4.76,0.9732],[4.83,0.9738],[4.9,0.9742],[4.97,0.9752],[5.04,0.9745],[5.1,0.9765],[5.16,0.9805],[5.23,0.9848],[5.3,0.9888],[5.4,0.992],[5.52,0.9942],[5.66,0.9958],[5.8,0.9965],[5.95,0.9972],[6.1,0.9975],[6.25,0.9985],[6.4,0.9978],[6.55,0.9982],[6.7,0.9972],[6.85,0.9968],[7.0,0.996],[7.15,0.9948],[7.28,0.993],[7.4,0.9915],[7.52,0.9885],[7.62,0.9852],[7.72,0.9805],[7.8,0.9755],[7.87,0.9705],[7.94,0.9668],[8.0,0.964],[8.04,0.9628],[8.1,0.9668],[8.17,0.9705],[8.25,0.9748],[8.32,0.976],[8.4,0.9752],[8.48,0.9742],[8.56,0.9715],[8.63,0.968],[8.68,0.9662],[8.73,0.9685],[8.79,0.9785],[8.86,0.9838],[8.94,0.9885],[9.05,0.9915],[9.18,0.9938],[9.32,0.9958],[9.47,0.997],[9.62,0.998],[9.77,0.9975],[9.9,0.9968]];

// ---------------- axes / labels ----------------
const panelLabels = ['NCF-1.0-800', 'NCF-0.7-800', 'NCF-0.5-800', 'NCF-0.3-800', 'NCF-0.0-800'];
const yMins = [0.9447, 0.957, 0.95, 0.95, 0.955];
const yMax = 1.0;
const xMin = -10;
const xMax = 10;
const xStep = 5;
const yAxisTitle = 'rel. transm.';
const xAxisTitle = 'vel [mm/s]';

const totals = [p1Total, p2Total, p3Total, p4Total, p5Total];
const reds = [p1Red, p2Red, p3Red, p4Red, p5Red];
const blues = [p1Blue, p2Blue, p3Blue, p4Blue, p5Blue];
const greens = [p1Green, p2Green, p3Green, p4Green, p5Green];
const dots = [p1Dots, p2Dots, p3Dots, p4Dots, p5Dots];

// layout (pixels)
const gridBoxes = [
  { left: 125, top: 25.7, width: 522, height: 296 },
  { left: 117, top: 360, width: 522, height: 293.7 },
  { left: 117, top: 686.7, width: 524, height: 296 },
  { left: 125, top: 1013.3, width: 522, height: 294 },
  { left: 125, top: 1334.3, width: 522, height: 293.4 },
];
const labelPos: [number, number][] = [[528.5, 296.3], [513.7, 622.5], [513.7, 954], [518.3, 1279], [527.8, 1602.5]];

const AXIS = '#5a5a5a';
const TXT = '#555';
const COL_TOTAL = '#1e1e1e';
const COL_RED = '#e04848';
const COL_BLUE = '#3a3ad6';
const COL_GREEN = '#3fa23f';

function buildOption() {
  const grid = gridBoxes.map((g) => ({ ...g, containLabel: false, outerBoundsMode: 'none' }));
  const xAxis = gridBoxes.map((_, i) => ({
    type: 'value',
    gridIndex: i,
    min: xMin,
    max: xMax,
    interval: xStep,
    axisLine: { show: true, onZero: false, lineStyle: { color: AXIS, width: 1.6 } },
    axisTick: { show: true, length: 5, lineStyle: { color: AXIS, width: 1.3 } },
    minorTick: { show: true, splitNumber: 2, length: 3, lineStyle: { color: AXIS, width: 1.1 } },
    splitLine: { show: false },
    minorSplitLine: { show: false },
    axisLabel: {
      show: i === 4,
      fontSize: 19,
      fontFamily: 'DejaVu Sans',
      color: TXT,
      margin: 10,
    },
    name: i === 4 ? xAxisTitle : '',
    nameLocation: 'middle',
    nameGap: 40,
    nameTextStyle: { fontSize: 25, fontFamily: 'DejaVu Sans', color: '#222' },
  }));
  const yAxis = gridBoxes.map((_, i) => ({
    type: 'value',
    gridIndex: i,
    min: yMins[i],
    max: yMax,
    minInterval: 0.01,
    maxInterval: 0.01,
    axisLine: { show: true, onZero: false, lineStyle: { color: AXIS, width: 1.6 } },
    axisTick: { show: true, length: 7, lineStyle: { color: AXIS, width: 1.3 } },
    minorTick: { show: true, splitNumber: 2, length: 4, lineStyle: { color: AXIS, width: 1.1 } },
    splitLine: { show: false },
    minorSplitLine: { show: false },
    axisLabel: {
      fontSize: 19,
      fontFamily: 'DejaVu Sans',
      color: TXT,
      margin: 14,
      showMinLabel: true,
      showMaxLabel: true,
      formatter: (v: number) => (Math.abs(v * 100 - Math.round(v * 100)) < 1e-6 ? v.toFixed(2) : ''),
    },
    // the shared y title sits on the middle panel's axis
    name: i === 2 ? yAxisTitle : '',
    nameLocation: 'middle',
    nameRotate: 90,
    nameGap: 78,
    nameTextStyle: {
      fontSize: 21,
      fontFamily: '"DejaVu Sans Condensed", "DejaVu Sans", sans-serif',
      color: '#222',
      padding: [0, 24, 0, 0],
    },
  }));
  const series: any[] = [];
  for (let i = 0; i < 5; i++) {
    series.push({
      type: 'scatter', xAxisIndex: i, yAxisIndex: i, data: dots[i], symbol: 'circle', symbolSize: 3.8,
      itemStyle: { color: '#111' }, silent: true, clip: false, z: 2,
    });
    series.push({
      type: 'line', xAxisIndex: i, yAxisIndex: i, data: totals[i], showSymbol: false, symbol: 'none',
      smooth: 0.2, lineStyle: { color: COL_TOTAL, width: 1.8 }, silent: true, clip: false, z: 3,
    });
    const comps: [Pt[], string][] = [[reds[i], COL_RED], [blues[i], COL_BLUE], [greens[i], COL_GREEN]];
    comps.forEach(([d, c], k) => {
      series.push({
        type: 'line', xAxisIndex: i, yAxisIndex: i, data: d, showSymbol: false, symbol: 'none',
        smooth: 0.2, lineStyle: { color: c, width: 1.5 }, silent: true, clip: false, z: 4 + k,
      });
    });
  }
  const graphic: any[] = [];
  panelLabels.forEach((t, i) => {
    graphic.push({
      type: 'text', x: labelPos[i][0], y: labelPos[i][1],
      style: {
        text: t, fontSize: 28, fontFamily: 'DejaVu Sans', fill: '#333',
        align: 'center', verticalAlign: 'middle',
      },
    });
  });
  return {
    animation: false,
    backgroundColor: '#fff',
    grid,
    xAxis,
    yAxis,
    series,
    graphic,
  };
}

export default function App() {
  const ref = useRef<HTMLDivElement>(null);
  useEffect(() => {
    document.body.style.margin = '0';
    if (!ref.current) return;
    const chart = echarts.init(ref.current, undefined, { renderer: 'svg' });
    chart.setOption(buildOption() as any);
    return () => chart.dispose();
  }, []);
  return <div ref={ref} style={{ width: 664, height: 1695, background: '#fff' }} />;
}
